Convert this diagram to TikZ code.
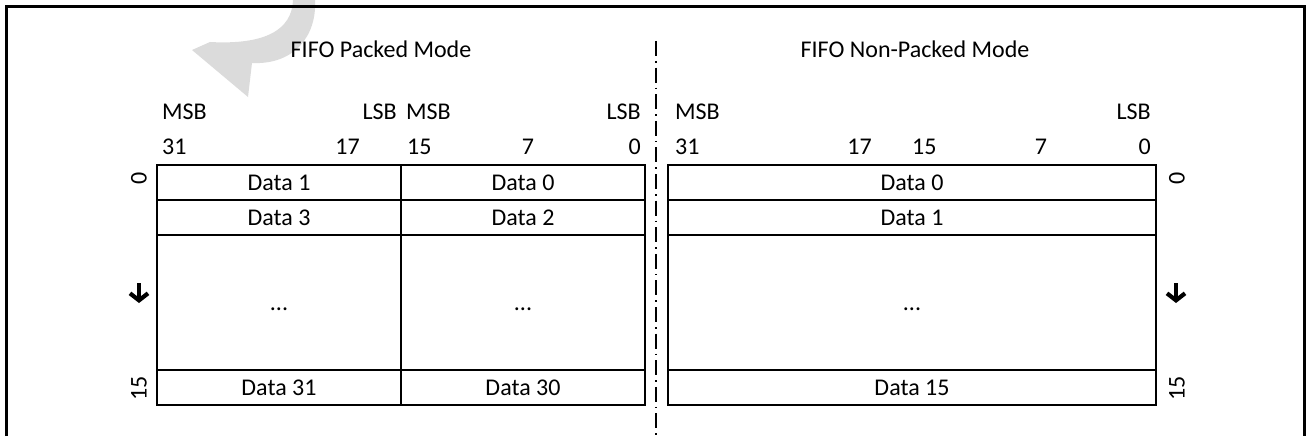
\documentclass[tikz,border=0pt]{standalone}
\usepackage{fontspec}
\setmainfont{Carlito}
\usetikzlibrary{positioning,arrows.meta}

\begin{document}
\begin{tikzpicture}[x=1pt, y=-1pt, font=\fontsize{24}{28}\selectfont,
  cell/.style={draw, line width=1.2pt, inner sep=0pt, outer sep=0pt,
               minimum height=35pt, text height=15pt, text depth=0pt},
  halfcell/.style={cell, minimum width=244pt},
  fullcell/.style={cell, minimum width=488pt},
  bitlbl/.style={inner sep=0pt},
  rowlbl/.style={inner sep=0pt, rotate=90},
  dnarrow/.style={line width=4.2pt, -{Straight Barb[length=7pt, width=18pt]}},
  divider/.style={line width=1.5pt, dash pattern=on 15pt off 5pt on 1.6pt off 5pt}]
  \useasboundingbox (0,0) rectangle (1308,436);
  % watermark fragment
  \fill[black!14] (293,0) .. controls (292,30) and (265,45) .. (210,42) -- (192,50)
        -- (248,97) -- (252,63) .. controls (295,65) and (317,35) .. (315,0) -- cycle;
  % frame, open at the bottom
  \draw[line width=3pt] (6.5,436) -- (6.5,6.5) -- (1304.5,6.5) -- (1304.5,436);

  % titles
  \node[anchor=base] (tpack) at (381,57) {FIFO Packed Mode};
  \node[anchor=base] (tnon)  at (915,57) {FIFO Non-Packed Mode};

  % bit headers, packed
  \node[bitlbl, anchor=base west] (msbA) at (162,119) {MSB};
  \node[bitlbl, anchor=base east] (lsbA) at (397,119) {LSB};
  \node[bitlbl, anchor=base west] (msbB) at (406,119) {MSB};
  \node[bitlbl, anchor=base east] (lsbB) at (641,119) {LSB};
  \node[bitlbl, anchor=base west] (bA31) at (162,154) {31};
  \node[bitlbl, anchor=base east] (bA17) at (360,154) {17};
  \node[bitlbl, anchor=base west] (bA15) at (407,154) {15};
  \node[bitlbl, anchor=base]      (bA7)  at (528,154) {7};
  \node[bitlbl, anchor=base east] (bA0)  at (641,154) {0};
  % bit headers, non-packed
  \node[bitlbl, anchor=base west] (msbC) at (675,119) {MSB};
  \node[bitlbl, anchor=base east] (lsbC) at (1151,119) {LSB};
  \node[bitlbl, anchor=base west] (bC31) at (675,154) {31};
  \node[bitlbl, anchor=base east] (bC17) at (872,154) {17};
  \node[bitlbl, anchor=base west] (bC15) at (912,154) {15};
  \node[bitlbl, anchor=base]      (bC7)  at (1041,154) {7};
  \node[bitlbl, anchor=base east] (bC0)  at (1151,154) {0};

  % packed FIFO
  \node[halfcell, anchor=north west] (pd1) at (157,165) {Data 1};
  \node[halfcell, right=0pt of pd1] (pd0) {Data 0};
  \node[halfcell, below=0pt of pd1] (pd3) {Data 3};
  \node[halfcell, below=0pt of pd0] (pd2) {Data 2};
  \node[halfcell, minimum height=135pt, below=0pt of pd3] (pdotsA) {...};
  \node[halfcell, minimum height=135pt, below=0pt of pd2] (pdotsB) {...};
  \node[halfcell, below=0pt of pdotsA] (pd31) {Data 31};
  \node[halfcell, below=0pt of pdotsB] (pd30) {Data 30};

  % non-packed FIFO
  \node[fullcell, anchor=north west] (nd0) at (668,165) {Data 0};
  \node[fullcell, below=0pt of nd0] (nd1) {Data 1};
  \node[fullcell, minimum height=135pt, below=0pt of nd1] (ndots) {...};
  \node[fullcell, below=0pt of ndots] (nd15) {Data 15};

  % row indices
  \node[rowlbl] (rlA0)  at (139,178) {0};
  \node[rowlbl] (rlA15) at (139,388) {15};
  \node[rowlbl] (rlC0)  at (1177,178) {0};
  \node[rowlbl] (rlC15) at (1177,388) {15};
  \coordinate (arrA) at (139,283);
  \coordinate (arrC) at (1176,283);
  \draw[dnarrow] (arrA) -- ++(0,20);
  \draw[dnarrow] (arrC) -- ++(0,20);

  % mode divider
  \draw[divider] (656,41) -- (656,436);
\end{tikzpicture}
\end{document}
